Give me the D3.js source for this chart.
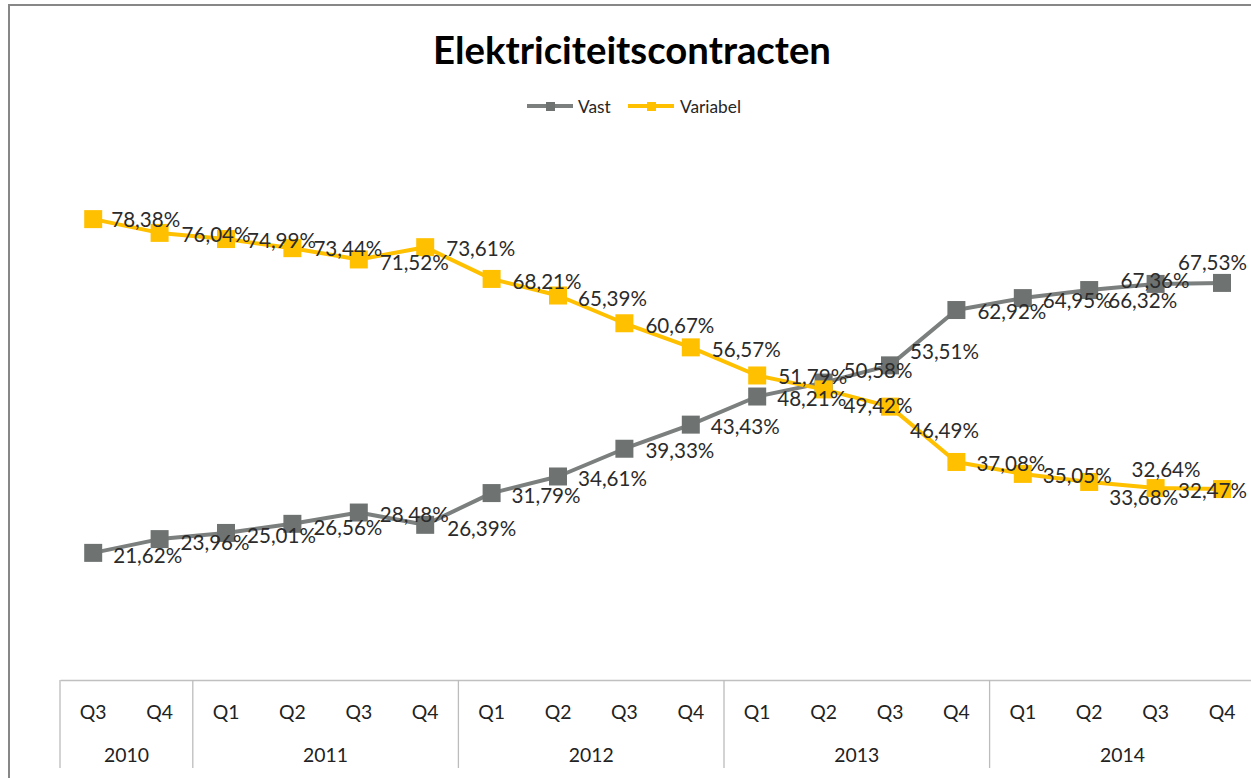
<!DOCTYPE html>
<html><head><meta charset="utf-8">
<script src="https://cdn.jsdelivr.net/npm/d3@7"></script>
<style>
html,body{margin:0;padding:0;background:#fff;}
svg{display:block;}
</style></head>
<body>
<svg id="chart" width="1251" height="778"></svg>
<script>
// ---- data ----
const quarters = ["Q3","Q4","Q1","Q2","Q3","Q4","Q1","Q2","Q3","Q4","Q1","Q2","Q3","Q4","Q1","Q2","Q3","Q4"];
const years    = ["2010","2010","2011","2011","2011","2011","2012","2012","2012","2012","2013","2013","2013","2013","2014","2014","2014","2014"];
const vast     = [21.62,23.96,25.01,26.56,28.48,26.39,31.79,34.61,39.33,43.43,48.21,50.58,53.51,62.92,64.95,66.32,67.36,67.53];
const variabel = [78.38,76.04,74.99,73.44,71.52,73.61,68.21,65.39,60.67,56.57,51.79,49.42,46.49,37.08,35.05,33.68,32.64,32.47];
const seriesNames = ["Vast","Variabel"];
const title = "Elektriciteitscontracten";

// ---- label placement (layout, offsets from the point) ----
const vastLabelDx = [20,21,21,21,21,22,20,20,21,20,20,20,20,21,20,19,-35,-44];
const vastLabelDy = [2,3,2,3,1,3,2,2,1,1,1,-13,-14,1,2,10,-4,-21];
const varLabelDx  = [18,22,21,21,21,21,21,20,21,21,21,20,20,20,20,20,-24,-44];
const varLabelDy  = [0,1,1,0,3,1,2,2,2,2,1,16,23,1,1,15,-19,1];

const GRAY_LINE = "#7b7f7e", GRAY_MARK = "#6e7372", GOLD = "#FFC000";
const FONT = "Lato, 'Open Sans', sans-serif";

const svg = d3.select("#chart");
svg.append("rect").attr("width",1251).attr("height",778).attr("fill","#fff");

// chart border (clipped by window)
svg.append("rect").attr("x",9).attr("y",5).attr("width",1300).attr("height",800)
  .attr("fill","none").attr("stroke","#878787").attr("stroke-width",2);

function fitSize(text, weight, target, base){
  const t = svg.append("text").attr("font-family",FONT).attr("font-weight",weight)
    .attr("font-size",base).text(text);
  const w = t.node().getComputedTextLength();
  t.remove();
  return base*target/w;
}
const titleSize = fitSize(title,"bold",398,30);
const labelSize = fitSize("78,38%","normal",69,20);
const axisSize  = fitSize("2010","normal",45,18);
const legSize   = fitSize("Variabel","normal",61,14);

// title
svg.append("text").attr("x",632).attr("y",49).attr("text-anchor","middle")
  .attr("dominant-baseline","central")
  .attr("font-family",FONT).attr("font-weight","bold").attr("font-size",titleSize)
  .attr("fill","#000").text(title);

// scales
const idx = d3.range(quarters.length);
const x = d3.scaleBand().domain(idx).range([60,1255.2]).padding(0);
const cx = i => x(i)+x.bandwidth()/2;
const y = d3.scaleLinear().domain([0,100]).range([680,92]);

// category axis
const axisG = svg.append("g").attr("transform","translate(0,680)");
axisG.call(d3.axisBottom(x).tickSize(0).tickPadding(0).tickFormat(i=>quarters[i]));
axisG.select(".domain").attr("stroke","#c0c0c0").attr("stroke-width",1.5);
axisG.selectAll(".tick text").attr("font-family",FONT).attr("font-size",axisSize)
  .attr("fill","#222").attr("dy",null).attr("y",31).attr("dominant-baseline","central");

// year groups
const groups = [];
years.forEach((yr,i)=>{
  if(!groups.length || groups[groups.length-1].year!==yr) groups.push({year:yr,start:i,end:i});
  else groups[groups.length-1].end=i;
});
const sepX = [x(0), ...groups.map(g=>x(g.end)+x.bandwidth())];
svg.append("g").selectAll("line").data(sepX).join("line")
  .attr("x1",d=>d).attr("x2",d=>d).attr("y1",680).attr("y2",768)
  .attr("stroke","#bcbcbc").attr("stroke-width",1.3);
svg.append("g").selectAll("text").data(groups).join("text")
  .attr("x",g=>(x(g.start)+x(g.end)+x.bandwidth())/2).attr("y",754)
  .attr("text-anchor","middle").attr("dominant-baseline","central")
  .attr("font-family",FONT).attr("font-size",axisSize).attr("fill","#222")
  .text(g=>g.year);

// lines
const line = d3.line().x((d,i)=>cx(i)).y(d=>y(d));
const series = [
  {name:seriesNames[0], values:vast, line:GRAY_LINE, mark:GRAY_MARK, dx:vastLabelDx, dy:vastLabelDy},
  {name:seriesNames[1], values:variabel, line:GOLD, mark:GOLD, dx:varLabelDx, dy:varLabelDy}
];
const fmt = v => v.toFixed(2).replace(".",",")+"%";
const M = 18;
series.forEach(s=>{
  svg.append("path").datum(s.values).attr("d",line).attr("fill","none")
    .attr("stroke",s.line).attr("stroke-width",4).attr("stroke-linejoin","round");
  svg.append("g").selectAll("rect").data(s.values).join("rect")
    .attr("x",(d,i)=>cx(i)-M/2).attr("y",d=>y(d)-M/2).attr("width",M).attr("height",M)
    .attr("fill",s.mark);
});
series.forEach(s=>{
  svg.append("g").selectAll("text").data(s.values).join("text")
    .attr("x",(d,i)=>cx(i)+s.dx[i]).attr("y",(d,i)=>y(d)+s.dy[i])
    .attr("dominant-baseline","central")
    .attr("font-family",FONT).attr("font-size",labelSize).attr("fill","#2b2b2b")
    .text(d=>fmt(d));
});

// legend
const legend = [
  {name:seriesNames[0], color:GRAY_LINE, mark:GRAY_MARK, x:527, tx:578},
  {name:seriesNames[1], color:GOLD, mark:GOLD, x:628, tx:680}
];
const lg = svg.append("g");
legend.forEach(l=>{
  lg.append("line").attr("x1",l.x).attr("x2",l.x+46).attr("y1",106).attr("y2",106)
    .attr("stroke",l.color).attr("stroke-width",4);
  lg.append("rect").attr("x",l.x+19).attr("y",102).attr("width",9).attr("height",9).attr("fill",l.mark);
  lg.append("text").attr("x",l.tx).attr("y",106).attr("dominant-baseline","central")
    .attr("font-family",FONT).attr("font-size",legSize).attr("fill","#262626").text(l.name);
});
</script>
</body></html>
